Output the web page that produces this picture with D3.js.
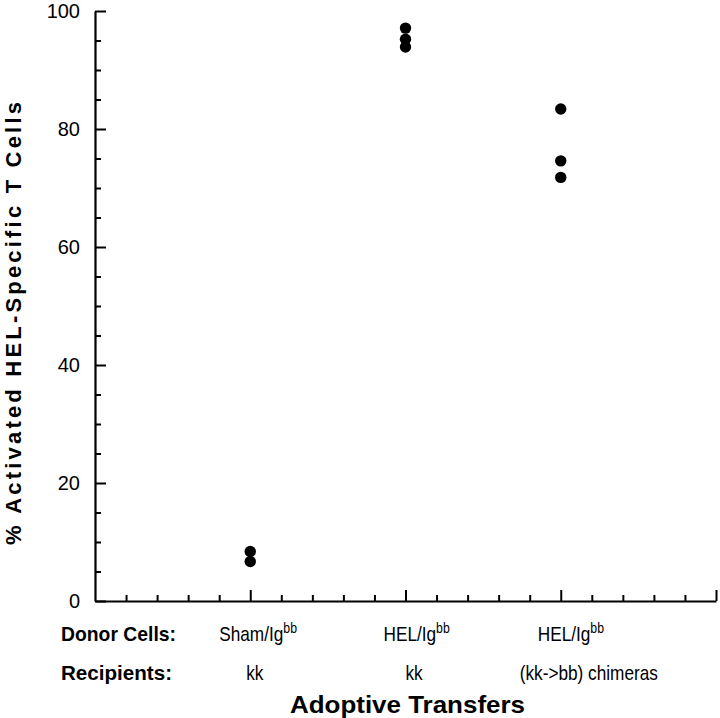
<!DOCTYPE html>
<html><head><meta charset="utf-8">
<script src="https://cdn.jsdelivr.net/npm/d3@7"></script>
<style>body{margin:0;background:#fff}svg{display:block}text{font-family:"Liberation Sans",Arial,Helvetica,sans-serif;fill:#000}</style>
</head><body>
<svg id="c" width="720" height="718"></svg>
<script>
// Data
const categories = ["Sham/Ig", "HEL/Ig", "HEL/Ig"];
const recipients = ["kk", "kk", "(kk->bb) chimeras"];
const categoryX = [1, 2, 3];
const values = [
  [8.4, 6.7],
  [97.1, 95.2, 93.9],
  [83.4, 74.6, 71.8]
];
const yTicks = [0, 20, 40, 60, 80, 100];
const yTitle = "% Activated  HEL-Specific T Cells";
const xTitle = "Adoptive Transfers";
const rowLabels = ["Donor  Cells:", "Recipients:"];

const svg = d3.select("#c");
const x = d3.scaleLinear().domain([0, 4]).range([95, 716]);
const y = d3.scaleLinear().domain([0, 100]).range([601, 11]);

// Y axis
const yAxis = d3.axisRight(y).tickValues(d3.range(0, 101, 5)).tickSizeInner(6).tickSizeOuter(0).tickFormat("");
const gy = svg.append("g").attr("transform", `translate(${x(0)},0)`).call(yAxis);
gy.selectAll(".tick line").attr("stroke", "#000").attr("stroke-width", 2)
  .attr("x2", d => d % 20 === 0 ? 11 : 6);
gy.select(".domain").attr("stroke", "#000").attr("stroke-width", 2.2);
svg.append("g").selectAll("text").data(yTicks).join("text")
  .attr("x", 80).attr("y", d => y(d)).attr("dy", "0.36em")
  .attr("text-anchor", "end").attr("font-size", 20).text(d => d);

// X axis
const xAxis = d3.axisTop(x).tickValues(d3.range(1, 21).map(i => i * 0.2)).tickSizeInner(6).tickSizeOuter(0).tickFormat("");
const gx = svg.append("g").attr("transform", `translate(0,${y(0)})`).call(xAxis);
gx.selectAll(".tick line").attr("stroke", "#000").attr("stroke-width", 2)
  .attr("y2", d => Math.abs(d - Math.round(d)) < 1e-6 ? -11 : -6);
gx.select(".domain").attr("stroke", "#000").attr("stroke-width", 2.2);

// Points
const pts = [];
values.forEach((vs, i) => vs.forEach(v => pts.push({cx: categoryX[i], v})));
svg.append("g").selectAll("circle").data(pts).join("circle")
  .attr("cx", d => x(d.cx)).attr("cy", d => y(d.v)).attr("r", 5.7).attr("fill", "#000");

// Row labels
const rowY = [641, 680];
svg.append("g").selectAll("text").data(rowLabels).join("text")
  .attr("x", 61).attr("y", (d, i) => rowY[i])
  .attr("font-size", 21).attr("font-weight", "bold")
  .attr("textLength", (d, i) => i === 0 ? 115 : 111).attr("lengthAdjust", "spacingAndGlyphs")
  .text(d => d);

// Category labels
const donorOff = [-31, -22, -23];
categories.forEach((c, i) => {
  const t = svg.append("text").attr("font-size", 21)
    .attr("transform", `translate(${x(categoryX[i]) + donorOff[i]},${rowY[0]}) scale(0.82,1)`);
  t.append("tspan").text(c);
  t.append("tspan").attr("font-size", 15).attr("dy", -8).text("bb");
});
const recOff = [-4, 0, -41];
recipients.forEach((r, i) => {
  svg.append("text").attr("font-size", 21)
    .attr("transform", `translate(${x(categoryX[i]) + recOff[i]},${rowY[1]}) scale(0.82,1)`)
    .text(r);
});

// Titles
svg.append("text").attr("x", 290).attr("y", 713).attr("font-size", 24).attr("font-weight", "bold")
  .attr("textLength", 235).attr("lengthAdjust", "spacingAndGlyphs").text(xTitle);
svg.append("text").attr("transform", "translate(21,545) rotate(-90)")
  .attr("font-size", 22).attr("font-weight", "bold")
  .attr("textLength", 443).attr("lengthAdjust", "spacing").text(yTitle);
</script>
</body></html>
